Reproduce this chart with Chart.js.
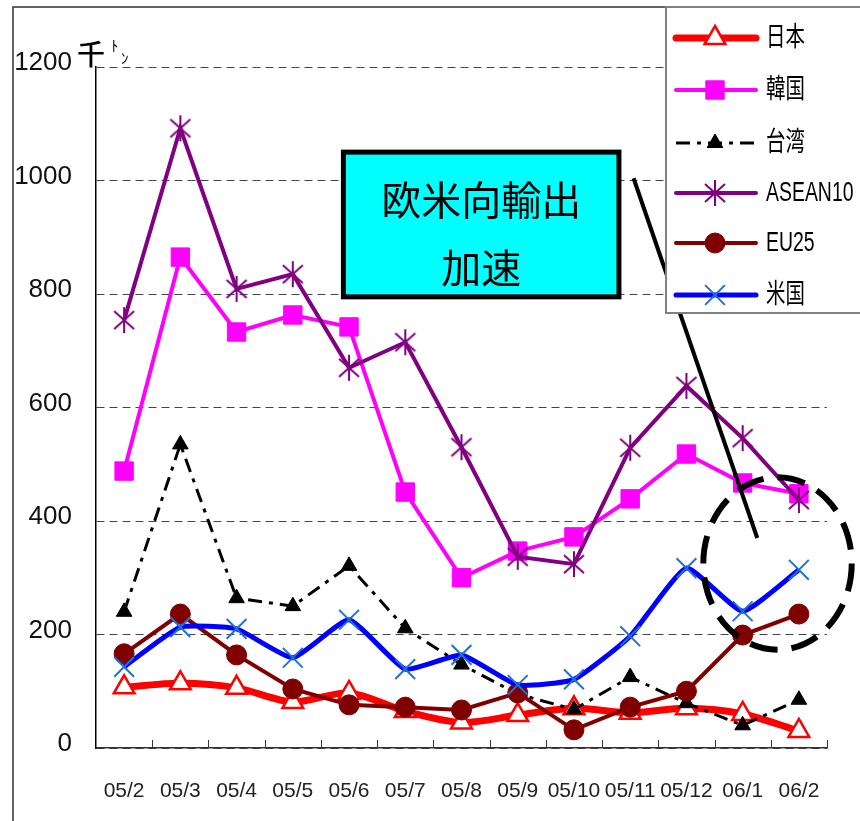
<!DOCTYPE html>
<html lang="ja">
<head>
<meta charset="utf-8">
<title>仕向地別輸出の推移</title>
<script src="https://cdn.jsdelivr.net/npm/chart.js@4.4.1/dist/chart.umd.min.js"></script>
<style>
  body { margin: 0; background: #fff; }
  #wrap { width: 860px; height: 821px; position: relative; }
</style>
</head>
<body>
<div id="wrap"><canvas id="exportChart"></canvas></div>
<script>
// monthly values, 千トン
const months = ["05/2", "05/3", "05/4", "05/5", "05/6", "05/7", "05/8", "05/9", "05/10", "05/11", "05/12", "06/1", "06/2"];
const japan  = [107, 114, 106, 81, 97, 65, 45, 58, 70, 62, 70, 60, 30];
const korea  = [488, 865, 733, 763, 742, 451, 300, 347, 372, 439, 518, 467, 448];
const taiwan = [240, 535, 264, 250, 321, 211, 147, 95, 68, 125, 79, 40, 85];
const asean  = [754, 1092, 809, 835, 670, 715, 530, 337, 324, 529, 638, 546, 437];
const eu25   = [166, 236, 164, 104, 76, 72, 67, 97, 32, 72, 100, 199, 236];
const usa    = [143, 213, 210, 159, 226, 139, 164, 111, 121, 197, 317, 241, 314];
const yMax = 1200;
const yStep = 200;
const noteLines = ["欧米向輸出", "加速"];

const SANS = "'Liberation Sans', Arial, 'Noto Sans CJK JP', sans-serif";
const CJK = "'Noto Sans CJK JP', sans-serif";

// excel style asterisk marker (x with a vertical bar)
function makeAsterisk(color) {
  const c = document.createElement("canvas");
  c.width = 24; c.height = 28;
  const g = c.getContext("2d");
  g.strokeStyle = color;
  g.lineWidth = 2;
  g.beginPath();
  g.moveTo(12, 1); g.lineTo(12, 27);
  g.moveTo(2, 5); g.lineTo(22, 23);
  g.moveTo(22, 5); g.lineTo(2, 23);
  g.stroke();
  return c;
}
const asteriskMark = makeAsterisk("#800080");

const decorations = {
  id: "decorations",
  beforeDraw(chart) {
    const ctx = chart.ctx;
    ctx.save();
    ctx.fillStyle = "#fff";
    ctx.fillRect(0, 0, chart.width, chart.height);
    ctx.strokeStyle = "#333";
    ctx.lineWidth = 1.5;
    ctx.strokeRect(13, 7, chart.width + 10, chart.height + 10);
    ctx.restore();
  },
  beforeDatasetsDraw(chart) {
    // short inward ticks between categories
    const ctx = chart.ctx, x = chart.scales.x, a = chart.chartArea;
    ctx.save();
    ctx.strokeStyle = "#333";
    ctx.lineWidth = 1;
    ctx.beginPath();
    for (let i = 0; i < months.length; i++) {
      const px = Math.round(x.getPixelForValue(i + 0.5)) + 0.5;
      ctx.moveTo(px, a.bottom);
      ctx.lineTo(px, a.bottom - 8);
    }
    ctx.stroke();
    ctx.restore();
  },
  afterDatasetsDraw(chart) {
    const ctx = chart.ctx, x = chart.scales.x, y = chart.scales.y;
    ctx.save();

    // note box
    const bl = x.getPixelForValue(3.9), br = x.getPixelForValue(8.8);
    const bt = y.getPixelForValue(1050), bb = y.getPixelForValue(795);
    ctx.fillStyle = "#00ffff";
    ctx.fillRect(bl, bt, br - bl, bb - bt);
    ctx.strokeStyle = "#000";
    ctx.lineWidth = 5;
    ctx.strokeRect(bl, bt, br - bl, bb - bt);
    ctx.fillStyle = "#000";
    ctx.font = "40px " + CJK;
    ctx.textAlign = "center";
    ctx.textBaseline = "middle";
    ctx.fillText(noteLines[0], (bl + br) / 2, bt + 48);
    ctx.fillText(noteLines[1], (bl + br) / 2, bt + 116);

    // pointer
    ctx.lineWidth = 4;
    ctx.beginPath();
    ctx.moveTo(x.getPixelForValue(9.06), y.getPixelForValue(1004));
    ctx.lineTo(x.getPixelForValue(11.26), y.getPixelForValue(370));
    ctx.stroke();

    // dashed ellipse round the last two months
    const cx = x.getPixelForValue(11.62), cy = y.getPixelForValue(325);
    const rx = x.getPixelForValue(12.94) - cx, ry = cy - y.getPixelForValue(477);
    ctx.lineWidth = 6;
    ctx.setLineDash([28, 14]);
    ctx.beginPath();
    ctx.ellipse(cx, cy, rx, ry, 0, 0, Math.PI * 2);
    ctx.stroke();
    ctx.restore();
  },
  afterDraw(chart) {
    const ctx = chart.ctx;
    ctx.save();

    // unit
    ctx.fillStyle = "#000";
    ctx.textAlign = "left";
    ctx.textBaseline = "alphabetic";
    ctx.font = "500 28px " + CJK;
    ctx.fillText("千", 77, 65);
    ctx.font = "15px " + CJK;
    ctx.fillText("ﾄ", 111, 51);
    ctx.fillText("ﾝ", 121, 64);

    // legend box
    ctx.fillStyle = "#fff";
    ctx.fillRect(666, 7, 200, 306);
    ctx.strokeStyle = "#808080";
    ctx.lineWidth = 2;
    ctx.strokeRect(666, 7, 200, 306);

    const rows = [38, 90, 143, 193, 243, 295];
    chart.data.datasets.forEach((ds, i) => {
      const ly = rows[i];
      ctx.save();
      ctx.strokeStyle = ds.borderColor;
      ctx.lineWidth = ds.borderWidth;
      ctx.lineCap = ds.borderDash ? "butt" : "round";
      ctx.setLineDash(ds.borderDash || []);
      ctx.beginPath();
      ctx.moveTo(676, ly);
      ctx.lineTo(756, ly);
      ctx.stroke();
      ctx.restore();

      ctx.save();
      ctx.fillStyle = ds.pointBackgroundColor;
      ctx.strokeStyle = ds.pointBorderColor;
      ctx.lineWidth = ds.pointBorderWidth;
      Chart.helpers.drawPoint(ctx, {
        pointStyle: ds.pointStyle,
        radius: ds.pointRadius,
        rotation: 0,
        borderWidth: ds.pointBorderWidth
      }, 715, ly);
      ctx.restore();

      // narrow lettering like the original
      ctx.save();
      ctx.translate(766, ly + 1);
      ctx.scale(0.72, 1);
      ctx.fillStyle = "#000";
      ctx.font = "27px " + SANS;
      ctx.textAlign = "left";
      ctx.textBaseline = "middle";
      ctx.fillText(ds.label, 0, 0);
      ctx.restore();
    });
    ctx.restore();
  }
};

const ctx = document.getElementById("exportChart").getContext("2d");
const exportChart = new Chart(ctx, {
  type: "line",
  data: {
    labels: months,
    datasets: [
      {
        label: "日本", data: japan, order: 6,
        borderColor: "#ff0000", borderWidth: 7, tension: 0.3,
        pointStyle: "triangle", pointRadius: 12,
        pointBackgroundColor: "#fff", pointBorderColor: "#ff0000", pointBorderWidth: 2.5
      },
      {
        label: "韓国", data: korea, order: 5,
        borderColor: "#ff00ff", borderWidth: 4,
        pointStyle: "rect", pointRadius: 13,
        pointBackgroundColor: "#ff00ff", pointBorderColor: "#ff00ff", pointBorderWidth: 1
      },
      {
        label: "台湾", data: taiwan, order: 4,
        borderColor: "#000", borderWidth: 3, borderDash: [14, 7, 4, 7],
        pointStyle: "triangle", pointRadius: 9,
        pointBackgroundColor: "#000", pointBorderColor: "#000", pointBorderWidth: 1
      },
      {
        label: "ASEAN10", data: asean, order: 3,
        borderColor: "#800080", borderWidth: 4,
        pointStyle: asteriskMark, pointRadius: 12,
        pointBackgroundColor: "#800080", pointBorderColor: "#800080", pointBorderWidth: 2
      },
      {
        label: "EU25", data: eu25, order: 2,
        borderColor: "#800000", borderWidth: 4,
        pointStyle: "circle", pointRadius: 10,
        pointBackgroundColor: "#800000", pointBorderColor: "#800000", pointBorderWidth: 1
      },
      {
        label: "米国", data: usa, order: 1,
        borderColor: "#0000ff", borderWidth: 5, tension: 0.15,
        pointStyle: "crossRot", pointRadius: 14,
        pointBackgroundColor: "#1e73d2", pointBorderColor: "#1e73d2", pointBorderWidth: 2
      }
    ]
  },
  options: {
    responsive: true,
    maintainAspectRatio: false,
    animation: false,
    layout: { padding: { top: 67, right: 33, left: 0, bottom: 0 } },
    plugins: {
      legend: { display: false },
      tooltip: { enabled: false }
    },
    scales: {
      x: {
        offset: true,
        afterFit: (s) => { s.height = 73; },
        grid: { display: true, drawOnChartArea: false, drawTicks: false },
        border: { display: true, color: "#333", width: 1.5 },
        ticks: {
          color: "#222", padding: 31, maxRotation: 0, autoSkip: false,
          font: { family: SANS, size: 21 }
        }
      },
      y: {
        min: 0, max: yMax,
        afterFit: (s) => { s.width = 96; },
        grid: { color: "#444", lineWidth: 1, drawTicks: false },
        border: { display: true, color: "#000", width: 1.5, dash: [8, 5] },
        ticks: {
          stepSize: yStep, color: "#111", padding: 24, labelOffset: -4,
          font: { family: SANS, size: 26 },
          callback: (v) => String(v)
        }
      }
    }
  },
  plugins: [decorations]
});
</script>
</body>
</html>
